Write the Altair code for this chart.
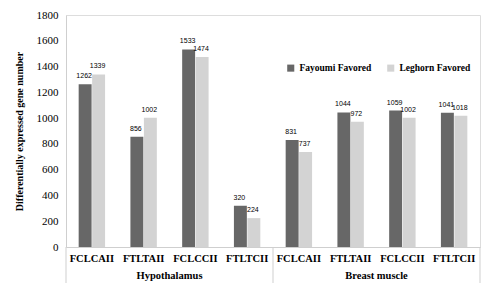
import altair as alt
import pandas as pd

groups = ["Hypothalamus"] * 4 + ["Breast muscle"] * 4
comparisons = ["FCLCAII", "FTLTAII", "FCLCCII", "FTLTCII"] * 2
keys = ["H-FCLCAII", "H-FTLTAII", "H-FCLCCII", "H-FTLTCII",
        "B-FCLCAII", "B-FTLTAII", "B-FCLCCII", "B-FTLTCII"]
fayoumi = [1262, 856, 1533, 320, 831, 1044, 1059, 1041]
leghorn = [1339, 1002, 1474, 224, 737, 972, 1002, 1018]
series = ["Fayoumi Favored", "Leghorn Favored"]
colors = ["#676767", "#d3d3d3"]
yticks = [0, 200, 400, 600, 800, 1000, 1200, 1400, 1600, 1800]

rows = []
for k, f, l in zip(keys, fayoumi, leghorn):
    rows.append({"key": k, "series": series[0], "value": f})
    rows.append({"key": k, "series": series[1], "value": l})
df = pd.DataFrame(rows)

W, H = 414, 232
serif = "Times New Roman, Liberation Serif, serif"

xscale = alt.Scale(domain=keys, paddingInner=0, paddingOuter=0)
yscale = alt.Scale(domain=[0, 1800], nice=False)
xoff = alt.XOffset("series:N", scale=alt.Scale(domain=series, paddingInner=0.04, paddingOuter=0.94))

xaxis = alt.Axis(title=None, labelExpr="slice(datum.label, 2)", labelAngle=0,
                 labelFont=serif, labelFontSize=10.5, labelFontWeight="bold",
                 labelColor="#000", ticks=False, labelPadding=6,
                 domainColor="#cfcfcf")
yaxis = alt.Axis(title="Differentially  expressed gene number", values=yticks,
                 format="d", labelOverlap=False,
                 grid=False, ticks=False, labelPadding=8, labelFont=serif,
                 labelFontSize=11, labelColor="#000", domainColor="#cfcfcf",
                 titleFont=serif, titleFontSize=10, titleFontWeight="bold",
                 titleColor="#000", titlePadding=12)

base = alt.Chart(df)

bars = base.mark_bar().encode(
    x=alt.X("key:N", scale=xscale, sort=keys, axis=xaxis),
    xOffset=xoff,
    y=alt.Y("value:Q", scale=yscale, axis=yaxis),
    color=alt.Color("series:N", scale=alt.Scale(domain=series, range=colors),
                    legend=alt.Legend(title=None, orient="none", direction="horizontal",
                                      legendX=220, legendY=48, symbolType="square",
                                      symbolSize=50, symbolStrokeWidth=0,
                                      labelFont=serif, labelFontSize=9.5, labelFontWeight="bold",
                                      labelColor="#000", columnPadding=14, labelLimit=200)),
)

labels = base.mark_text(dy=-5, dx=-1, fontSize=7, font="Liberation Sans", color="#000", baseline="bottom").encode(
    x=alt.X("key:N", scale=xscale, sort=keys, axis=xaxis),
    xOffset=xoff,
    y=alt.Y("value:Q", scale=yscale, axis=yaxis),
    text=alt.Text("value:Q"),
)

sep_df = pd.DataFrame({"key": ["H-FCLCAII", "B-FCLCAII", "B-FTLTCII"], "pos": [0, 0, 1]})
seps_left = alt.Chart(sep_df[sep_df.pos == 0]).mark_rule(color="#cfcfcf").encode(
    x=alt.X("key:N", scale=xscale, sort=keys, bandPosition=0, axis=xaxis),
    y=alt.value(H), y2=alt.value(H + 36),
)
seps_right = alt.Chart(sep_df[sep_df.pos == 1]).mark_rule(color="#cfcfcf").encode(
    x=alt.X("key:N", scale=xscale, sort=keys, bandPosition=1, axis=xaxis),
    y=alt.value(H), y2=alt.value(H + 36),
)

grp_df = pd.DataFrame({"key": ["H-FTLTAII", "B-FTLTAII"], "label": ["Hypothalamus", "Breast muscle"]})
grp = alt.Chart(grp_df).mark_text(font=serif, fontSize=10.5, fontWeight="bold", color="#000").encode(
    x=alt.X("key:N", scale=xscale, sort=keys, bandPosition=1, axis=xaxis),
    y=alt.value(H + 29),
    text="label:N",
)

chart = alt.layer(bars, labels, seps_left, seps_right, grp).properties(
    width=W, height=H,
    autosize=alt.AutoSizeParams(type="none"),
    padding={"left": 58, "top": 7, "right": 8, "bottom": 38},
).configure_view(stroke=None).configure(background="white")

chart.save("out.html", embed_options={"renderer": "svg", "actions": False})
